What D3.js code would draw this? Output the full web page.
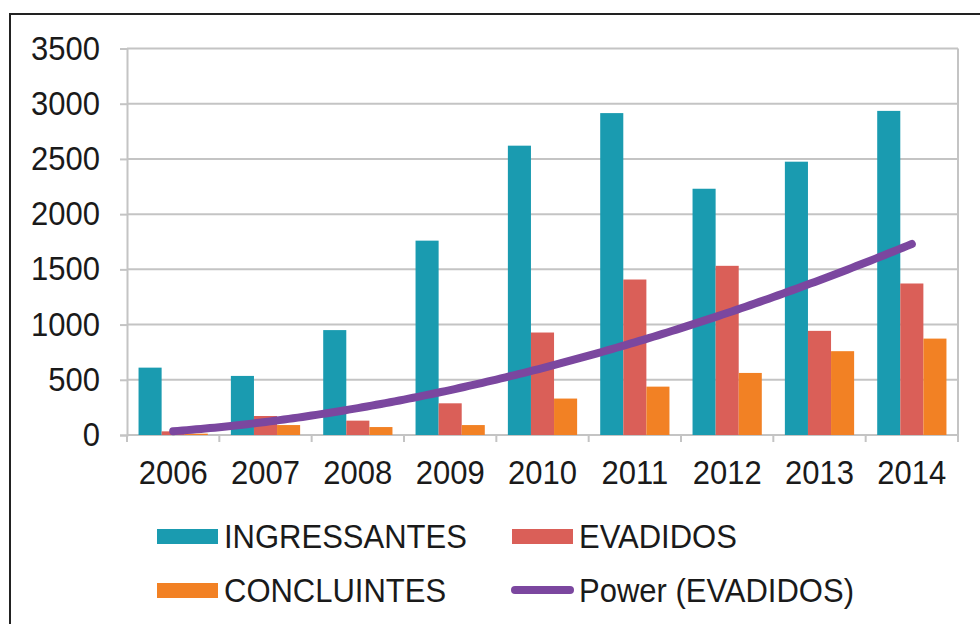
<!DOCTYPE html>
<html>
<head>
<meta charset="utf-8">
<script src="https://cdn.jsdelivr.net/npm/d3@7/dist/d3.min.js"></script>
<style>
  html, body { margin: 0; padding: 0; background: #fff; }
  svg { display: block; }
  text { font-family: "Liberation Sans", Arial, sans-serif; fill: #1a1a1a; }
</style>
</head>
<body>
<svg id="chart" width="980" height="624"></svg>
<script>
// Academic flow per year
const years = ["2006", "2007", "2008", "2009", "2010", "2011", "2012", "2013", "2014"];
const ingressantes = [610, 535, 950, 1760, 2620, 2915, 2230, 2475, 2935];
const evadidos = [33, 172, 130, 287, 928, 1408, 1532, 943, 1372];
const concluintes = [12, 90, 72, 90, 330, 438, 562, 759, 873];
const yTicks = [0, 500, 1000, 1500, 2000, 2500, 3000, 3500];

const seriesNames = ["INGRESSANTES", "EVADIDOS", "CONCLUINTES"];
const seriesValues = [ingressantes, evadidos, concluintes];
const colors = { INGRESSANTES: "#1A9BB0", EVADIDOS: "#DA5F58", CONCLUINTES: "#F28124" };
const trendColor = "#7B479F";

const svg = d3.select("#chart");
const W = 980, H = 624;
const plot = { left: 127, right: 958, top: 48.5, bottom: 435 };
const fontSize = "31px";
const stretch = "scale(1,1.07)";

// outer frame
svg.append("rect")
  .attr("x", 10).attr("y", 14)
  .attr("width", W + 20).attr("height", H + 20)
  .attr("fill", "none").attr("stroke", "#222").attr("stroke-width", 2);

const x = d3.scaleBand().domain(years).range([plot.left, plot.right]).padding(0);
const xs = d3.scaleBand().domain(seriesNames).range([0, x.bandwidth()])
  .paddingInner(0).paddingOuter(0.5);
const y = d3.scaleLinear().domain([0, 3500]).range([plot.bottom, plot.top]);

const gridColor = "#C4C4C4";

// horizontal gridlines
svg.append("g").selectAll("line").data(yTicks.slice(1)).join("line")
  .attr("x1", plot.left).attr("x2", plot.right)
  .attr("y1", d => y(d)).attr("y2", d => y(d))
  .attr("stroke", gridColor).attr("stroke-width", 2);

// right border of the plot area
svg.append("line")
  .attr("x1", plot.right).attr("x2", plot.right)
  .attr("y1", plot.top).attr("y2", plot.bottom + 7)
  .attr("stroke", gridColor).attr("stroke-width", 2);

// y axis
const yAxis = svg.append("g")
  .attr("transform", `translate(${plot.left},0)`)
  .call(d3.axisLeft(y).tickValues(yTicks).tickSize(7).tickPadding(20).tickFormat(d3.format("d")));
yAxis.select(".domain").attr("stroke", gridColor).attr("stroke-width", 2);
yAxis.selectAll(".tick line").attr("stroke", gridColor).attr("stroke-width", 2);
yAxis.selectAll(".tick text")
  .style("font-size", fontSize).attr("fill", "#1a1a1a")
  .style("font-family", "'Liberation Sans', Arial, sans-serif")
  .attr("transform", stretch);

// x axis with tick marks at category boundaries
const xAxisG = svg.append("g").attr("transform", `translate(0,${plot.bottom})`);
xAxisG.append("line")
  .attr("x1", plot.left).attr("x2", plot.right)
  .attr("stroke", gridColor).attr("stroke-width", 2);
const boundaries = years.map(d => x(d)).concat([plot.right]);
xAxisG.selectAll("line.tk").data(boundaries).join("line")
  .attr("class", "tk")
  .attr("x1", d => d).attr("x2", d => d)
  .attr("y1", 0).attr("y2", 7)
  .attr("stroke", gridColor).attr("stroke-width", 2);
xAxisG.selectAll("text").data(years).join("text")
  .attr("transform", d => `translate(${x(d) + x.bandwidth() / 2},49) ${stretch}`)
  .attr("text-anchor", "middle")
  .style("font-size", fontSize)
  .text(d => d);

// grouped bars
const barData = [];
years.forEach((yr, i) => {
  seriesNames.forEach((s, k) => barData.push({ yr, s, v: seriesValues[k][i] }));
});
svg.append("g").selectAll("rect").data(barData).join("rect")
  .attr("x", d => x(d.yr) + xs(d.s))
  .attr("width", xs.bandwidth())
  .attr("y", d => y(d.v))
  .attr("height", d => y(0) - y(d.v))
  .attr("fill", d => colors[d.s]);

// power trendline fitted to EVADIDOS: y = a * t^b, t = 1..n
const lt = evadidos.map((_, i) => Math.log(i + 1));
const lv = evadidos.map(v => Math.log(v));
const mt = d3.mean(lt), mv = d3.mean(lv);
const b = d3.sum(lt, (t, i) => (t - mt) * (lv[i] - mv)) / d3.sum(lt, t => (t - mt) * (t - mt));
const a = Math.exp(mv - b * mt);
const tx = d3.scaleLinear().domain([1, years.length])
  .range([x(years[0]) + x.bandwidth() / 2, x(years[years.length - 1]) + x.bandwidth() / 2]);
const trendPts = d3.range(1, years.length + 0.001, 0.05).map(t => [tx(t), y(a * Math.pow(t, b))]);
svg.append("path")
  .attr("d", d3.line()(trendPts))
  .attr("fill", "none")
  .attr("stroke", trendColor)
  .attr("stroke-width", 8)
  .attr("stroke-linecap", "round")
  .attr("stroke-linejoin", "round");

// legend
const legendItems = [
  { label: "INGRESSANTES", type: "bar", color: colors.INGRESSANTES, x: 157, y: 536 },
  { label: "EVADIDOS", type: "bar", color: colors.EVADIDOS, x: 512, y: 536 },
  { label: "CONCLUINTES", type: "bar", color: colors.CONCLUINTES, x: 157, y: 590 },
  { label: "Power (EVADIDOS)", type: "line", color: trendColor, x: 512, y: 590 }
];
const lg = svg.append("g").selectAll("g").data(legendItems).join("g")
  .attr("transform", d => `translate(${d.x},${d.y})`);
lg.filter(d => d.type === "bar").append("rect")
  .attr("x", 0).attr("y", -7).attr("width", 61).attr("height", 15)
  .attr("fill", d => d.color);
lg.filter(d => d.type === "line").append("line")
  .attr("x1", 3).attr("x2", 58).attr("y1", 0).attr("y2", 0)
  .attr("stroke", d => d.color).attr("stroke-width", 8).attr("stroke-linecap", "round");
lg.append("text")
  .attr("transform", `translate(67,0) ${stretch}`)
  .attr("dy", "0.36em")
  .style("font-size", fontSize)
  .text(d => d.label);
</script>
</body>
</html>
